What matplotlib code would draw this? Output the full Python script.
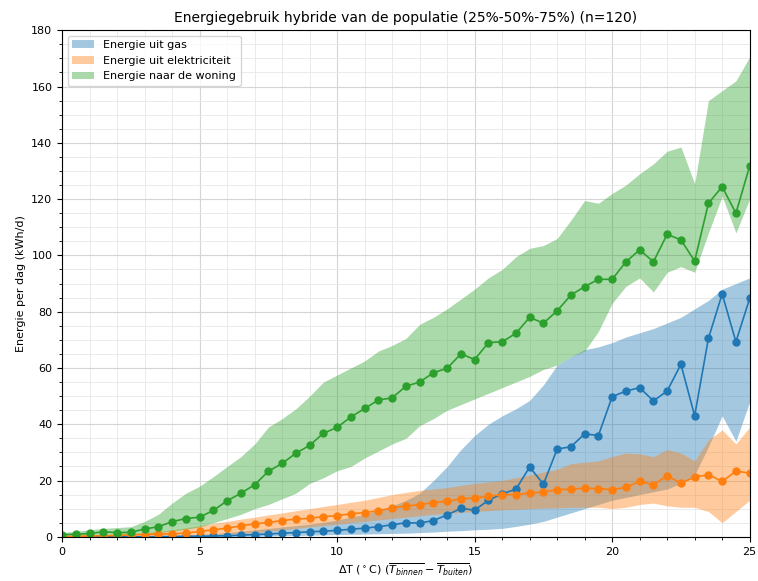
import matplotlib
matplotlib.use('Agg')
import matplotlib.pyplot as plt
import numpy as np
from matplotlib.ticker import MultipleLocator

# temperatuurverschil stappen (0 .. 25, stap 0.5)
dT = np.arange(0, 25.5, 0.5)

gas_med = [0.0, 0.0, 0.0, 0.0, 0.0, 0.0, 0.0, 0.1, 0.1, 0.2,
           0.2, 0.3, 0.4, 0.6, 0.8, 1.0, 1.3, 1.5, 1.8, 2.0,
           2.3, 2.7, 3.1, 3.6, 4.3, 5.0, 4.9, 5.8, 7.8, 10.1,
           9.5, 13.0, 15.3, 16.9, 24.8, 18.7, 31.2, 32.0, 36.6, 36.0,
           49.8, 51.8, 53.0, 48.3, 51.8, 61.3, 43.0, 70.5, 86.3, 69.3,
           84.7]
gas_lo = [0.0, 0.0, 0.0, 0.0, 0.0, 0.0, 0.0, 0.0, 0.0, 0.0,
          0.0, 0.1, 0.1, 0.2, 0.2, 0.3, 0.4, 0.5, 0.6, 0.7,
          0.8, 0.9, 1.0, 1.1, 1.2, 1.3, 1.5, 1.7, 2.0, 2.2,
          2.5, 2.7, 3.0, 3.7, 4.5, 5.5, 7.0, 8.5, 10.0, 11.5,
          13.0, 14.0, 15.0, 16.0, 17.0, 19.0, 22.0, 32.0, 43.0, 34.0,
          48.0]
gas_hi = [0.0, 0.0, 0.1, 0.1, 0.2, 0.2, 0.3, 0.4, 0.5, 0.7,
          0.9, 1.2, 1.5, 2.0, 2.5, 3.0, 3.5, 4.0, 4.5, 5.2,
          6.0, 7.0, 8.0, 9.5, 11.0, 13.0, 15.5, 20.0, 25.0, 31.0,
          36.0, 40.0, 43.0, 45.5, 48.5, 54.0, 61.0, 64.0, 66.5, 67.5,
          69.0, 71.0, 72.5, 74.0, 76.0, 78.0, 81.0, 84.0, 88.0, 90.0,
          92.0]

elek_med = [0.1, 0.2, 0.3, 0.4, 0.5, 0.7, 0.8, 1.0, 1.1, 1.3,
            1.9, 2.5, 3.1, 3.9, 4.6, 5.1, 5.8, 6.3, 6.6, 7.2,
            7.5, 8.2, 8.6, 9.3, 10.2, 11.0, 11.4, 12.2, 12.6, 13.5,
            13.8, 14.4, 15.0, 15.0, 15.6, 15.9, 16.8, 16.9, 17.3, 17.1,
            16.8, 17.6, 19.7, 18.5, 21.7, 19.1, 21.2, 22.1, 19.7, 23.3,
            22.7]
elek_lo = [0.0, 0.0, 0.0, 0.0, 0.0, 0.0, 0.0, 0.1, 0.3, 0.4,
           0.6, 0.8, 1.0, 1.2, 1.5, 2.0, 2.5, 3.0, 3.5, 4.0,
           4.5, 5.0, 5.5, 6.0, 6.5, 7.0, 7.5, 8.0, 8.3, 8.7,
           9.0, 9.3, 9.6, 9.8, 10.0, 10.2, 10.3, 10.5, 10.5, 10.5,
           10.0, 10.5, 11.5, 12.0, 11.0, 10.5, 10.5, 9.0, 5.0, 9.0,
           13.0]
elek_hi = [0.3, 0.4, 0.5, 0.7, 0.9, 1.2, 1.5, 2.0, 2.5, 3.2,
           4.0, 4.8, 5.5, 6.3, 7.0, 7.8, 8.5, 9.3, 10.0, 10.8,
           11.5, 12.3, 13.0, 14.0, 15.0, 15.8, 16.5, 17.0, 17.5, 18.3,
           19.0, 19.5, 20.0, 21.0, 22.0, 23.0, 24.0, 26.0, 26.5, 27.0,
           28.5, 29.8, 29.5, 28.5, 31.0, 29.8, 27.0, 34.4, 38.0, 33.0,
           39.0]

won_med = [0.8, 0.9, 1.2, 1.8, 1.5, 1.6, 2.8, 3.6, 5.4, 6.5,
           7.0, 9.4, 12.8, 15.5, 18.5, 23.3, 26.1, 29.7, 32.5, 36.8,
           38.9, 42.6, 45.6, 48.6, 49.4, 53.5, 55.0, 58.3, 59.9, 65.0,
           63.0, 69.0, 69.3, 72.3, 78.0, 75.9, 80.3, 85.9, 88.9, 91.5,
           91.5, 97.7, 102.0, 97.7, 107.5, 105.5, 98.0, 118.5, 124.4, 115.0,
           131.7]
won_lo = [0.3, 0.3, 0.4, 0.5, 0.6, 0.7, 1.0, 1.5, 2.0, 2.7,
          3.5, 5.0, 6.5, 8.0, 10.0, 11.5, 13.5, 15.5, 19.0, 21.0,
          23.5, 25.0, 28.0, 30.5, 33.0, 35.0, 39.5, 42.0, 45.0, 47.0,
          49.0, 51.0, 53.0, 55.0, 57.0, 59.5, 61.0, 64.0, 66.0, 73.0,
          83.0, 89.0, 92.0, 87.0, 94.0, 96.0, 94.0, 108.0, 121.0, 108.0,
          120.0]
won_hi = [1.5, 2.0, 2.5, 3.0, 3.3, 3.6, 5.5, 8.0, 12.0, 15.5,
          18.0, 21.4, 25.0, 28.5, 33.0, 39.0, 42.0, 45.5, 50.0, 55.0,
          57.5, 60.0, 62.5, 66.0, 68.0, 70.5, 75.5, 78.0, 81.0, 84.5,
          88.0, 92.0, 95.0, 99.5, 102.5, 103.5, 106.0, 112.5, 119.5, 118.5,
          122.0, 125.0, 129.0, 132.5, 137.0, 138.5, 125.5, 155.0, 158.5, 162.0,
          170.5]

fig = plt.figure(figsize=(7.58, 5.81), dpi=100)
ax = fig.add_axes([0.082, 0.076, 0.907, 0.872])

ax.fill_between(dT, gas_lo, gas_hi, color='tab:blue', alpha=0.4, lw=0, label='Energie uit gas')
ax.fill_between(dT, elek_lo, elek_hi, color='tab:orange', alpha=0.4, lw=0, label='Energie uit elektriciteit')
ax.fill_between(dT, won_lo, won_hi, color='tab:green', alpha=0.4, lw=0, label='Energie naar de woning')

ax.plot(dT, gas_med, 'o-', color='tab:blue', ms=5, lw=1.2)
ax.plot(dT, elek_med, 'o-', color='tab:orange', ms=5, lw=1.2)
ax.plot(dT, won_med, 'o-', color='tab:green', ms=5, lw=1.2)

ax.set_xlim(0, 25)
ax.set_ylim(0, 180)
ax.xaxis.set_major_locator(MultipleLocator(5))
ax.xaxis.set_minor_locator(MultipleLocator(1))
ax.yaxis.set_major_locator(MultipleLocator(20))
ax.yaxis.set_minor_locator(MultipleLocator(5))
ax.grid(which='major', color='#d5d5d5', lw=0.8)
ax.grid(which='minor', color='#e8e8e8', lw=0.6)
ax.set_axisbelow(True)
ax.tick_params(labelsize=8)

ax.set_title('Energiegebruik hybride van de populatie (25%-50%-75%) (n=120)', fontsize=10)
ax.set_xlabel(r'$\Delta$T ($^\circ$C) ($\overline{T_{binnen}} - \overline{T_{buiten}}$)', fontsize=8)
ax.set_ylabel('Energie per dag (kWh/d)', fontsize=8)
ax.legend(loc='upper left', fontsize=8)

plt.savefig('out.png')
